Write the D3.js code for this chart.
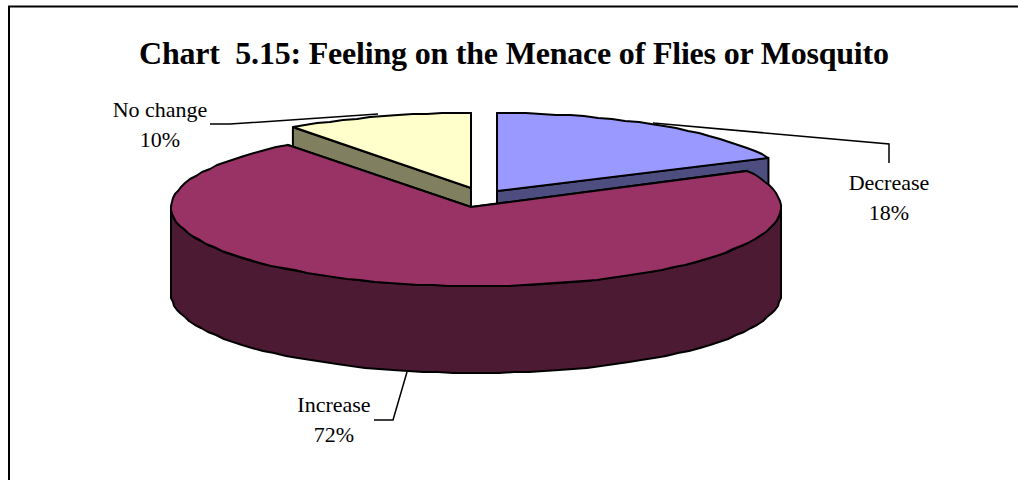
<!DOCTYPE html>
<html>
<head>
<meta charset="utf-8">
<script src="https://cdn.jsdelivr.net/npm/d3@7"></script>
<style>
  html, body { margin: 0; padding: 0; background: #fff; }
  svg { display: block; }
  text { font-family: "Liberation Serif", serif; fill: #000; }
</style>
</head>
<body>
<svg></svg>
<script>
var WIDTH = 1018;
var HEIGHT = 480;

var titleText = 'Chart\u00a0 5.15: Feeling on the Menace of Flies or Mosquito';
var categories = ['Decrease', 'Increase', 'No change'];
var values = [18, 72, 10];
var topColors = ['#9999ff', '#993366', '#ffffcc'];
var wallColors = ['#4d4d80', '#4d1a33', '#808060'];

// each wedge is pulled out of the pie by its own amount
var wedgeShapes = [
  { cx: 497, cy: 191, rx: 300, ry: 78, turn: 0, apexShift: 0 },
  { cx: 476, cy: 207, rx: 305, ry: 79, turn: -2.1, apexShift: -5 },
  { cx: 471, cy: 188, rx: 303, ry: 75, turn: 0, apexShift: 0 }
];
var DEPTH = 87;

var leaderLines = [
  [[653, 123], [889, 144], [889, 163]],
  [[407, 372], [393, 420], [374, 420]],
  [[378, 114], [230, 124], [210, 124]]
];
var labelSpots = [[889, 190], [334, 412], [160, 117]];

var svg = d3.select('svg')
  .attr('width', WIDTH)
  .attr('height', HEIGHT);

// outer frame, only the top and left edges are on the page
svg.append('path')
  .attr('d', 'M9,480V6.5H1018')
  .attr('fill', 'none')
  .attr('stroke', '#000')
  .attr('stroke-width', 2);

svg.append('text')
  .attr('x', 514)
  .attr('y', 64)
  .attr('text-anchor', 'middle')
  .attr('font-weight', 'bold')
  .attr('font-size', 32)
  .attr('textLength', 750)
  .text(titleText);

var pie = d3.pie().sort(null);
var arcs = pie(values);

var rimPoint = function(s, a, drop){
  var t = a + s.turn * Math.PI / 180;
  return [s.cx + s.rx * Math.sin(t), s.cy - s.ry * Math.cos(t) + (drop || 0)];
};

var apexPoint = function(s, drop){
  return [s.cx + s.apexShift, s.cy + (drop || 0)];
};

// the rim is a coarse run of whole-pixel points
var rimRun = function(s, a0, a1, drop){
  var n = Math.max(2, Math.ceil(Math.abs(a1 - a0) / 0.05));
  return d3.range(n + 1).map(function(i){
    var p = rimPoint(s, a0 + (a1 - a0) * i / n, drop);
    return [Math.round(p[0]), Math.round(p[1])];
  });
};

var line = d3.line();
var order = [0, 2, 1]; // the big wedge sits in front of the other two

order.forEach(function(i){
  var s = wedgeShapes[i];
  var d = arcs[i];
  var g = svg.append('g').attr('stroke', '#000').attr('stroke-width', 2).attr('stroke-linejoin', 'round');

  // the two cut faces
  [d.startAngle, d.endAngle].forEach(function(a){
    var p = [apexPoint(s), rimPoint(s, a), rimPoint(s, a, DEPTH), apexPoint(s, DEPTH)];
    g.append('path').attr('d', line(p) + 'Z').attr('fill', wallColors[i]);
  });

  // curved outside wall, only where it faces front
  var turn = s.turn * Math.PI / 180;
  var a0 = Math.max(d.startAngle, Math.PI / 2 - turn);
  var a1 = Math.min(d.endAngle, 3 * Math.PI / 2 - turn);
  if(a1 > a0){
    var upper = rimRun(s, a0, a1, 0);
    var lower = rimRun(s, a1, a0, DEPTH);
    g.append('path').attr('d', line(upper.concat(lower)) + 'Z').attr('fill', wallColors[i]);
  }

  // top face
  var top = [apexPoint(s)].concat(rimRun(s, d.startAngle, d.endAngle, 0));
  g.append('path').attr('d', line(top) + 'Z').attr('fill', topColors[i]);
});

svg.selectAll('.leader')
  .data(leaderLines)
  .enter()
  .append('path')
  .attr('class', 'leader')
  .attr('d', line)
  .attr('fill', 'none')
  .attr('stroke', '#000')
  .attr('stroke-width', 1.5);

categories.forEach(function(name, i){
  var label = svg.append('text')
    .attr('text-anchor', 'middle')
    .attr('font-size', 22);
  label.append('tspan')
    .attr('x', labelSpots[i][0])
    .attr('y', labelSpots[i][1])
    .text(name);
  label.append('tspan')
    .attr('x', labelSpots[i][0])
    .attr('y', labelSpots[i][1] + 30)
    .text(values[i] + '%');
});
</script>
</body>
</html>
